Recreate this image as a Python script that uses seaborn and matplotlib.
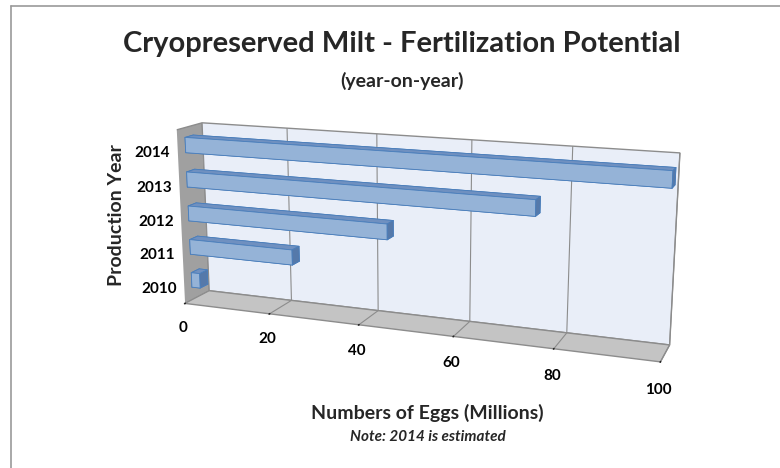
import matplotlib
matplotlib.use("Agg")
import matplotlib.pyplot as plt
import seaborn as sns
from matplotlib.lines import Line2D

# ==========================================
# Data
# ==========================================
years = ["2010", "2011", "2012", "2013", "2014"]
eggs = [2, 24, 45, 75, 100]
x_ticks = [0, 20, 40, 60, 80, 100]

# ==========================================
# Style
# ==========================================
sns.set_theme(style="white")
plt.rcParams["font.family"] = ["Lato", "DejaVu Sans"]

front = "#95B3D7"
top = "#6F90C0"
side = "#5579AA"
# bar3d face order: -z, +z, -y, +y, -x, +x
face_colors = [top, top, front, front, side, side]

fig = plt.figure(figsize=(7.8, 4.68), dpi=100)
ax = fig.add_axes([0.1, 0.09, 0.85, 0.8], projection="3d")
ax.set_proj_type("persp", focal_length=0.6)
ax.view_init(elev=14, azim=-69)
ax.set_box_aspect((100, 10, 37), zoom=1.41)

for i, v in enumerate(eggs):
    bars = ax.bar3d(0, 0.3, i - 0.22, v, 0.32, 0.44, color=face_colors,
                    shade=False, edgecolor="#4A7EBB", linewidth=0.6)
    bars.set_clip_on(False)

ax.set_xlim(0, 100)
ax.set_ylim(0, 1)
ax.set_zlim(-0.6, 4.5)
ax.set_xticks(x_ticks)
ax.set_yticks([])
ax.set_zticks(range(len(years)))
ax.set_zticklabels(years)
ax.zaxis.set_ticks_position("lower")

# walls and floor
ax.xaxis.set_pane_color("#A0A0A0")
ax.yaxis.set_pane_color("#E9EEF8")
ax.zaxis.set_pane_color("#C4C4C4")
for a in (ax.xaxis, ax.yaxis, ax.zaxis):
    a.pane.set_edgecolor("#8C8C8C")
    a.line.set_color((0, 0, 0, 0))

ax.grid(True)
ax.xaxis._axinfo["grid"].update(color="#8C8C8C", linewidth=0.8)
ax.zaxis._axinfo["grid"].update(color=(1, 1, 1, 0))
ax.zaxis._axinfo["tick"].update(inward_factor=0, outward_factor=0)
ax.tick_params(axis="x", pad=6)
ax.tick_params(axis="z", pad=0)

for lab in ax.get_xticklabels() + ax.get_zticklabels():
    lab.set_fontweight("bold")
    lab.set_fontsize(11)
    lab.set_color("black")

# ==========================================
# Text
# ==========================================
fig.text(0.515, 0.905, "Cryopreserved Milt - Fertilization Potential",
         ha="center", va="center", fontsize=21, fontweight="bold")
fig.text(0.515, 0.828, "(year-on-year)", ha="center", va="center",
         fontsize=14, fontweight="bold")
fig.text(0.548, 0.117, "Numbers of Eggs (Millions)", ha="center",
         va="center", fontsize=14, fontweight="bold")
fig.text(0.548, 0.066, "Note: 2014 is estimated", ha="center",
         va="center", fontsize=11, fontweight="bold", style="italic")
fig.text(0.15, 0.54, "Production Year", ha="center", va="center",
         rotation=90, fontsize=14, fontweight="bold")

# chart border
fig.add_artist(Line2D([11 / 780, 11 / 780], [0, 1 - 6 / 468],
                      transform=fig.transFigure, color="#999999", lw=1.2))
fig.add_artist(Line2D([11 / 780, 1], [1 - 6 / 468, 1 - 6 / 468],
                      transform=fig.transFigure, color="#999999", lw=1.2))

fig.savefig("out.png", dpi=100)
